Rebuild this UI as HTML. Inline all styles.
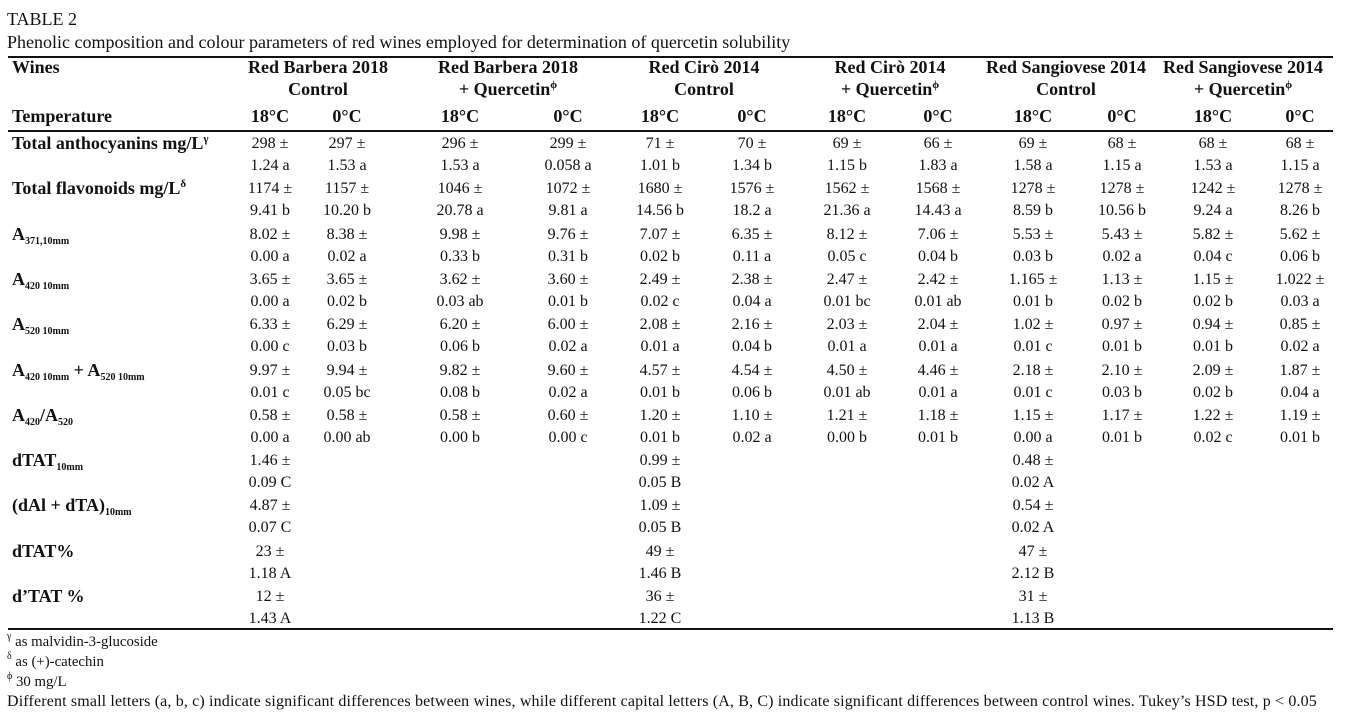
<!DOCTYPE html>
<html><head><meta charset="utf-8">
<style>
body{margin:0;width:1350px;height:721px;background:#fff;position:relative;overflow:hidden;font-family:"Liberation Serif",serif;color:#111;}
.t{position:absolute;white-space:nowrap;font-size:16px;line-height:20px;}
.c{transform:translateX(-50%);text-align:center;}
.b{font-weight:bold;font-size:18px;}
.cap{font-size:18px;}
.rule{position:absolute;left:8px;width:1325px;background:#111;}
sub{font-size:10px;vertical-align:-4px;line-height:0;}
sup{font-size:11px;vertical-align:7px;line-height:0;}
.f{font-size:16px;letter-spacing:0.15px;}
.fs{font-size:14.8px;letter-spacing:0;}
.f sup{font-size:10px;}
</style></head><body>
<div class="t cap" style="left:7px;top:9px;">TABLE 2</div>
<div class="t cap" style="left:7px;top:32px;">Phenolic composition and colour parameters of red wines employed for determination of quercetin solubility</div>
<div class="rule" style="top:56px;height:2px;"></div>
<div class="rule" style="top:130px;height:1.5px;"></div>
<div class="rule" style="top:628px;height:1.5px;"></div>
<div class="t b" style="left:12px;top:57px;">Wines</div>
<div class="t b" style="left:12px;top:106px;">Temperature</div>
<div id="tbl"></div>
<div class="t f fs" style="left:7px;top:632px;"><sup>γ</sup> as malvidin-3-glucoside</div>
<div class="t f fs" style="left:7px;top:652px;"><sup>δ</sup> as (+)-catechin</div>
<div class="t f fs" style="left:7px;top:672px;"><sup>ϕ</sup> 30 mg/L</div>
<div class="t f" style="left:7px;top:692px;">Different small letters (a, b, c) indicate significant differences between wines, while different capital letters (A, B, C) indicate significant differences between control wines. Tukey’s HSD test, p &lt; 0.05</div>
<script>
const groups=["Red Barbera 2018|Control","Red Barbera 2018|+ Quercetin<sup>ϕ</sup>","Red Cirò 2014|Control","Red Cirò 2014|+ Quercetin<sup>ϕ</sup>","Red Sangiovese 2014|Control","Red Sangiovese 2014|+ Quercetin<sup>ϕ</sup>"];
const groupX=[318,508,704,890,1066,1243];
const colX=[270,347,460,568,660,752,847,938,1033,1122,1213,1300];
const temps=["18°C","0°C"];
const labels=["Total anthocyanins mg/L<sup>γ</sup>","Total flavonoids mg/L<sup>δ</sup>","A<sub>371,10mm</sub>","A<sub>420 10mm</sub>","A<sub>520 10mm</sub>","A<sub>420 10mm</sub> + A<sub>520 10mm</sub>","A<sub>420</sub>/A<sub>520</sub>","dTAT<sub>10mm</sub>","(dAl + dTA)<sub>10mm</sub>","dTAT%","d’TAT %"];
const means=[
["298","297","296","299","71","70","69","66","69","68","68","68"],
["1174","1157","1046","1072","1680","1576","1562","1568","1278","1278","1242","1278"],
["8.02","8.38","9.98","9.76","7.07","6.35","8.12","7.06","5.53","5.43","5.82","5.62"],
["3.65","3.65","3.62","3.60","2.49","2.38","2.47","2.42","1.165","1.13","1.15","1.022"],
["6.33","6.29","6.20","6.00","2.08","2.16","2.03","2.04","1.02","0.97","0.94","0.85"],
["9.97","9.94","9.82","9.60","4.57","4.54","4.50","4.46","2.18","2.10","2.09","1.87"],
["0.58","0.58","0.58","0.60","1.20","1.10","1.21","1.18","1.15","1.17","1.22","1.19"],
["1.46","","","","0.99","","","","0.48","","",""],
["4.87","","","","1.09","","","","0.54","","",""],
["23","","","","49","","","","47","","",""],
["12","","","","36","","","","31","","",""]];
const errs=[
["1.24 a","1.53 a","1.53 a","0.058 a","1.01 b","1.34 b","1.15 b","1.83 a","1.58 a","1.15 a","1.53 a","1.15 a"],
["9.41 b","10.20 b","20.78 a","9.81 a","14.56 b","18.2 a","21.36 a","14.43 a","8.59 b","10.56 b","9.24 a","8.26 b"],
["0.00 a","0.02 a","0.33 b","0.31 b","0.02 b","0.11 a","0.05 c","0.04 b","0.03 b","0.02 a","0.04 c","0.06 b"],
["0.00 a","0.02 b","0.03 ab","0.01 b","0.02 c","0.04 a","0.01 bc","0.01 ab","0.01 b","0.02 b","0.02 b","0.03 a"],
["0.00 c","0.03 b","0.06 b","0.02 a","0.01 a","0.04 b","0.01 a","0.01 a","0.01 c","0.01 b","0.01 b","0.02 a"],
["0.01 c","0.05 bc","0.08 b","0.02 a","0.01 b","0.06 b","0.01 ab","0.01 a","0.01 c","0.03 b","0.02 b","0.04 a"],
["0.00 a","0.00 ab","0.00 b","0.00 c","0.01 b","0.02 a","0.00 b","0.01 b","0.00 a","0.01 b","0.02 c","0.01 b"],
["0.09 C","","","","0.05 B","","","","0.02 A","","",""],
["0.07 C","","","","0.05 B","","","","0.02 A","","",""],
["1.18 A","","","","1.46 B","","","","2.12 B","","",""],
["1.43 A","","","","1.22 C","","","","1.13 B","","",""]];
const tbl=document.getElementById('tbl');
function add(html,cls,x,y){const d=document.createElement('div');d.className='t '+cls;d.style.left=x+'px';d.style.top=y+'px';d.innerHTML=html;tbl.appendChild(d);return d;}
groups.forEach((g,i)=>{const p=g.split('|');
const a=add(p[0],'b c',groupX[i],57);


const b=add(p[1],'b c',groupX[i],79);

});
colX.forEach((x,j)=>{const d=add(temps[j%2],'b c',x,106);

});
labels.forEach((l,r)=>{const y=134+r*45.3;
const d=add(l,'b',12,y-1);


colX.forEach((x,j)=>{if(!means[r][j])return;
const m=add(means[r][j]+' ±','c',x,y);


const e=add(errs[r][j],'c',x,y+22);

});});
</script>
</body></html>
